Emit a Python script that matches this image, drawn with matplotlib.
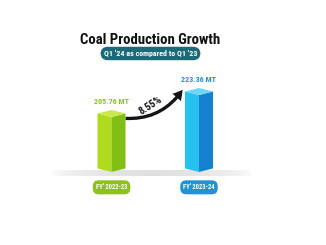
import matplotlib.pyplot as plt
from matplotlib.patches import FancyArrowPatch
import numpy as np

plt.rcParams['font.family'] = ['Roboto Condensed', 'DejaVu Sans']

# data
categories = ["FY' 2022-23", "FY' 2023-24"]
values = [205.76, 223.36]
value_labels = ["205.76 MT", "223.36 MT"]
title = "Coal Production Growth"
subtitle = "Q1 '24 as compared to Q1 '23"

# colours: (left face, right face, top cap, label/pill)
palettes = [
    ("#b0db1c", "#82bf14", "#c9e84c", "#8cc21a"),
    ("#25c2ef", "#1582d1", "#6ad8f6", "#1f93d3"),
]

fig = plt.figure(figsize=(3.26, 2.45), dpi=100)
fig.patch.set_facecolor("white")

ax = fig.add_axes([41.5 / 326, 65 / 245, 227.5 / 326, 120 / 245])
ax.set_xlim(-0.8, 1.8)
ax.set_ylim(149.76, 245.76)
ax.axis("off")

w = 0.32
d = 2.8          # half height of the top diamond (data units)
base = 156.2     # lowest point of the bar (front edge)

# soft grey floor shadow
alpha = np.sin(np.linspace(0, np.pi, 200)) ** 0.6 * 0.6
img = np.zeros((1, 200, 4))
img[..., :3] = 0.8
img[..., 3] = alpha
ax.imshow(img, extent=[-0.7, 1.62, 153.2, 157.6], aspect="auto", zorder=1)

for i, (v, pal) in enumerate(zip(values, palettes)):
    left, right, top, lab = pal
    x0, x1 = i - w / 2, i + w / 2
    side_bot = base + d
    # left face
    ax.fill([x0, i, i, x0], [side_bot, base, v - 2 * d, v - d],
            color=left, zorder=3, lw=0)
    # right face
    ax.fill([i, x1, x1, i], [base, side_bot, v - d, v - 2 * d],
            color=right, zorder=3, lw=0)
    # top cap
    ax.fill([x0, i, x1, i], [v - d, v - 2 * d, v - d, v],
            color=top, zorder=4, lw=0)
    ax.text(i, v + 7.2, value_labels[i], ha="center", va="center",
            color=lab, fontsize=5.8, fontweight="bold", zorder=5)
    ax.text(i, 143.9, categories[i], ha="center", va="center",
            color="white", fontsize=4.8, fontweight="bold", zorder=5,
            bbox=dict(boxstyle="round,pad=0.45,rounding_size=0.9",
                      fc=lab, ec="none"), clip_on=False)

# growth arrow
growth = (values[1] - values[0]) / values[0] * 100
arrow = FancyArrowPatch((0 + w / 2 - 0.03, values[0] - 6.6),
                        (1 - w / 2 - 0.01, values[1] + 0.5),
                        connectionstyle="arc3,rad=0.3",
                        arrowstyle="simple,head_length=7,head_width=8,tail_width=2.4",
                        color="#151515", lw=0, zorder=6)
ax.add_patch(arrow)
ax.text(0.45, values[0] + 3.6, f"{growth:.2f}%", ha="center", va="center",
        rotation=33, fontsize=7.5, fontweight="bold", color="#1a1a1a", zorder=7)

fig.text(150 / 326, 1 - 40.5 / 245, title, ha="center", va="center",
         fontsize=10.6, fontweight="bold", color="#111111")
fig.text(150.5 / 326, 1 - 53.5 / 245, subtitle, ha="center", va="center",
         fontsize=5.8, fontweight="bold", color="white",
         bbox=dict(boxstyle="round,pad=0.4,rounding_size=0.9",
                   fc="#1b6a78", ec="none"))

fig.savefig("out.png", dpi=100)
